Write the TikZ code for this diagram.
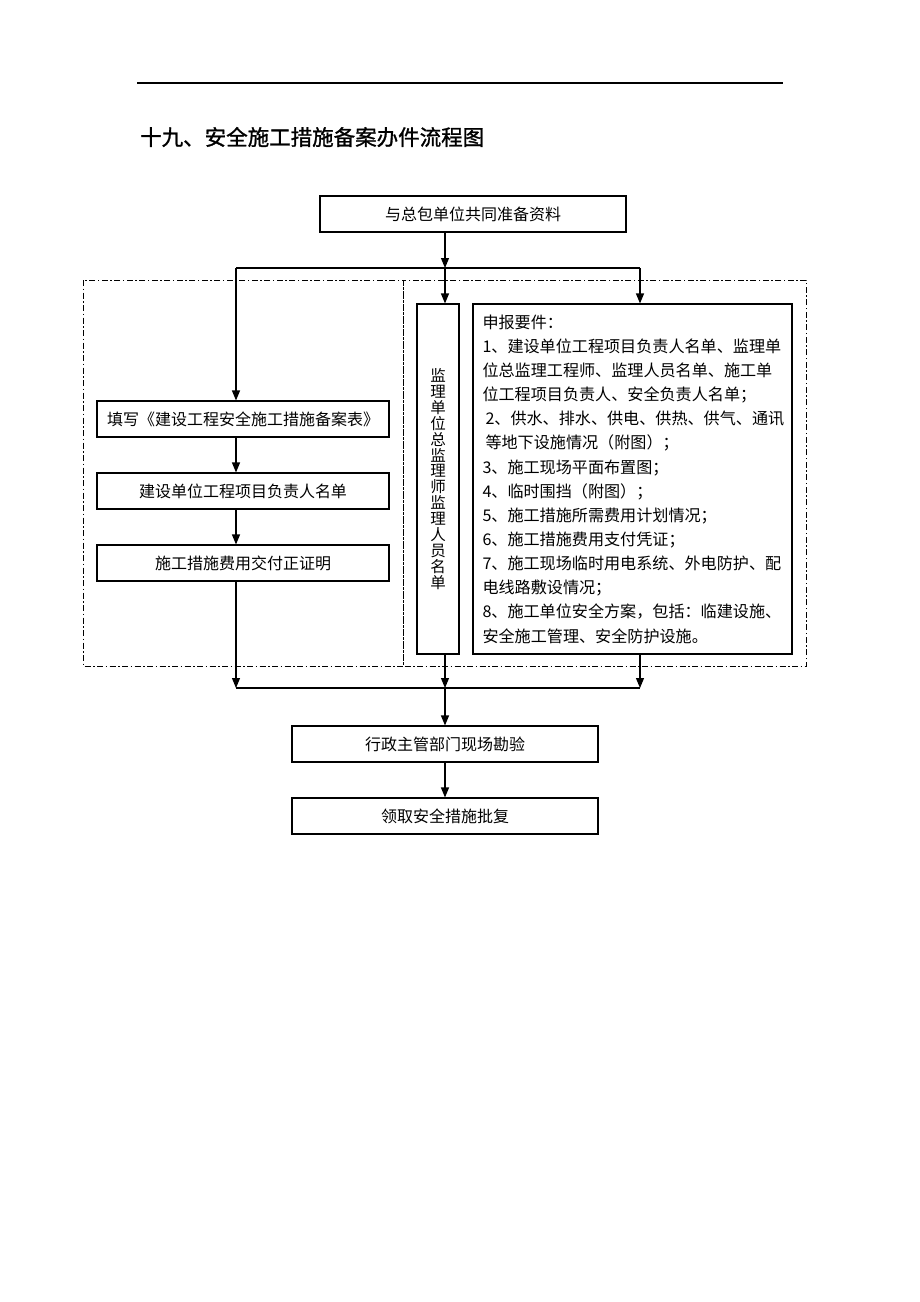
\documentclass[tikz,border=0pt]{standalone}
\usepackage{fontspec}
\setmainfont{Noto Sans CJK SC}
\newfontfamily\titlefont[FakeBold=1.2]{Noto Sans CJK SC}
\usetikzlibrary{arrows.meta}
\tikzset{
  box/.style={draw, line width=1.1pt, inner sep=0pt, minimum height=36pt,
    font=\fontsize{16}{18}\selectfont},
  flow/.style={line width=1.1pt, -{Triangle[length=10pt,width=8pt]}},
  link/.style={line width=1.1pt},
  region/.style={line width=1pt, dash pattern=on 6pt off 2.5pt on 1.5pt off 2.5pt},
}
\begin{document}
\begin{tikzpicture}[x=1pt, y=-1pt]
  \useasboundingbox (0,0) rectangle (920,1302);
  % Header
  \draw[link] (137,83) -- (783,83);
  \node[anchor=west, inner sep=0pt, font=\titlefont\fontsize{21.5}{24}\selectfont] (title) at (140,137)
    {十九、安全施工措施备案办件流程图};
  % Dashed regions
  \draw[region] (83,280) rectangle (403,666);
  \draw[region] (403,280) rectangle (806,666);
  % Boxes
  \node[box, minimum width=306pt] (prepare) at (473,214) {与总包单位共同准备资料};
  \node[box, minimum width=292pt] (form) at (243,419) {填写《建设工程安全施工措施备案表》};
  \node[box, minimum width=292pt] (owner) at (243,491) {建设单位工程项目负责人名单};
  \node[box, minimum width=292pt] (payment) at (243,563) {施工措施费用交付正证明};
  \node[box, minimum width=42pt, minimum height=350pt, text width=16pt, align=center,
    font=\fontsize{15.5}{15.9}\selectfont] (staff) at (438,479)
    {监\\理\\单\\位\\总\\监\\理\\师\\监\\理\\人\\员\\名\\单};
  \node[box, minimum height=350pt, text width=300pt, inner xsep=9.5pt, align=left,
    font=\fontsize{16.1}{24.15}\selectfont] (docs) at (632.5,479)
    {申报要件：\\
     1、建设单位工程项目负责人名单、监理单\\
     位总监理工程师、监理人员名单、施工单\\
     位工程项目负责人、安全负责人名单；\\
     \hspace*{3pt}2、供水、排水、供电、供热、供气、通讯\\
     \hspace*{3pt}等地下设施情况（附图）；\\
     3、施工现场平面布置图；\\
     4、临时围挡（附图）；\\
     5、施工措施所需费用计划情况；\\
     6、施工措施费用支付凭证；\\
     7、施工现场临时用电系统、外电防护、配\\
     电线路敷设情况；\\
     8、施工单位安全方案，包括：临建设施、\\
     安全施工管理、安全防护设施。};
  \node[box, minimum width=306pt] (inspect) at (445,744) {行政主管部门现场勘验};
  \node[box, minimum width=306pt] (reply) at (445,816) {领取安全措施批复};
  % Split and join points
  \coordinate (splitL) at (236,268);
  \coordinate (splitM) at (445,268);
  \coordinate (splitR) at (640,268);
  \coordinate (joinL) at (236,688);
  \coordinate (joinM) at (445,688);
  \coordinate (joinR) at (640,688);
  % Connectors
  \draw[flow] (prepare.south -| splitM) -- (splitM);
  \draw[link] (splitL) -- (splitR);
  \draw[flow] (splitL) -- (form.north -| splitL);
  \draw[flow] (splitM) -- (staff.north -| splitM);
  \draw[flow] (splitR) -- (docs.north -| splitR);
  \draw[flow] (form.south -| splitL) -- (owner.north -| splitL);
  \draw[flow] (owner.south -| splitL) -- (payment.north -| splitL);
  \draw[flow] (payment.south -| joinL) -- (joinL);
  \draw[flow] (staff.south -| joinM) -- (joinM);
  \draw[flow] (docs.south -| joinR) -- (joinR);
  \draw[link] (joinL) -- (joinR);
  \draw[flow] (joinM) -- (inspect);
  \draw[flow] (inspect) -- (reply);
\end{tikzpicture}
\end{document}
